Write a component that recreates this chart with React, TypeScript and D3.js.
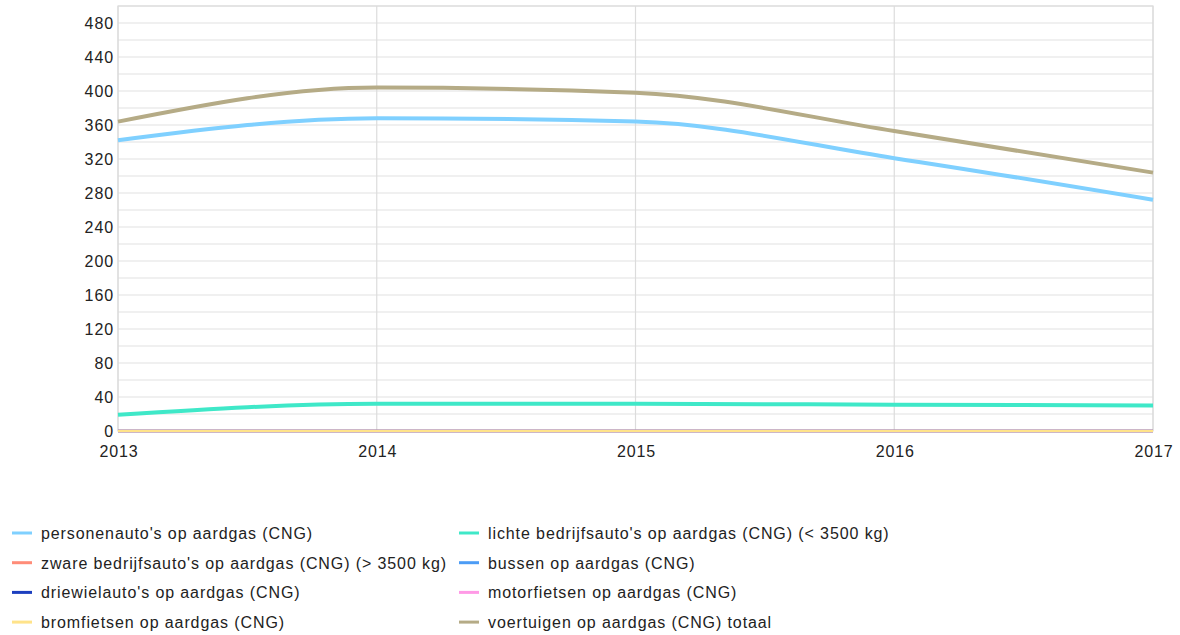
import React from "react";
import * as d3 from "d3";

const years = [2013, 2014, 2015, 2016, 2017];
const personenauto = [342, 368, 364, 321, 272];
const lichteBedrijf = [19, 32, 32, 31, 30];
const zwareBedrijf = [0, 0, 0, 0, 0];
const bussen = [0, 0, 0, 0, 0];
const driewiel = [0, 0, 0, 0, 0];
const motorfietsen = [0, 0, 0, 0, 0];
const bromfietsen = [0, 0, 0, 0, 0];
const totaal = [364, 404, 398, 353, 304];
const yTicks = [0, 40, 80, 120, 160, 200, 240, 280, 320, 360, 400, 440, 480];

const series = [
  { name: "personenauto's op aardgas (CNG)", values: personenauto, color: "#7fd0ff" },
  { name: "lichte bedrijfsauto's op aardgas (CNG) (< 3500 kg)", values: lichteBedrijf, color: "#3fe8c8" },
  { name: "zware bedrijfsauto's op aardgas (CNG) (> 3500 kg)", values: zwareBedrijf, color: "#ff8c78" },
  { name: "bussen op aardgas (CNG)", values: bussen, color: "#4c9cf5" },
  { name: "driewielauto's op aardgas (CNG)", values: driewiel, color: "#1c3fbf" },
  { name: "motorfietsen op aardgas (CNG)", values: motorfietsen, color: "#ff9ae6" },
  { name: "bromfietsen op aardgas (CNG)", values: bromfietsen, color: "#ffe38a" },
  { name: "voertuigen op aardgas (CNG) totaal", values: totaal, color: "#b5ab86" },
];

const drawOrder = [2, 3, 4, 5, 6, 1, 0, 7];

export default function App() {
  const W = 1180, H = 635;
  const left = 118, right = 1153, top = 6, bottom = 431;
  const x = d3.scaleLinear().domain([2013, 2017]).range([left, right]);
  const y = d3.scaleLinear().domain([0, 500]).range([bottom, top]);
  const minor = d3.range(0, 501, 20);
  const line = (vals: number[]) =>
    d3.line<number>()
      .x((_, i) => x(years[i]))
      .y((d) => y(d))
      .curve(d3.curveMonotoneX)(vals) || "";
  const font = "'Liberation Sans', Arial, sans-serif";
  const ls = 0.9;
  const fs = 16;
  return (
    <svg width={W} height={H} style={{ position: "absolute", left: 0, top: 0, fontFamily: font }}>
      <rect x={0} y={0} width={W} height={H} fill="#fff" />
      {minor.map((v) => (
        <line key={"g" + v} x1={left} x2={right} y1={y(v)} y2={y(v)} stroke="#e2e2e2" strokeWidth={1.2} />
      ))}
      {years.map((yr) => (
        <line key={"v" + yr} x1={x(yr)} x2={x(yr)} y1={top} y2={bottom} stroke="#dcdcdc" strokeWidth={1.2} />
      ))}
      <rect x={left} y={top} width={right - left} height={bottom - top} fill="none" stroke="#dcdcdc" strokeWidth={1.2} />
      {yTicks.map((v) => (
        <text key={"t" + v} x={left - 4} y={y(v) + 6} textAnchor="end" fontSize={fs} letterSpacing={ls} fill="#222">{v}</text>
      ))}
      {years.map((yr) => (
        <text key={"x" + yr} x={x(yr) + 1} y={bottom + 26} textAnchor="middle" fontSize={fs} letterSpacing={ls} fill="#222">{yr}</text>
      ))}
      {drawOrder.map((si) => (
        <path key={"p" + si} d={line(series[si].values)} fill="none" stroke={series[si].color} strokeWidth={si <= 1 || si === 7 ? 4 : 2.5} strokeLinejoin="round" />
      ))}
      {series.map((s, i) => {
        const col = i % 2;
        const row = Math.floor(i / 2);
        const lx = col === 0 ? 12 : 459;
        const ly = 533 + row * 29.7;
        return (
          <g key={"l" + i}>
            <line x1={lx} x2={lx + 20} y1={ly} y2={ly} stroke={s.color} strokeWidth={3} />
            <text x={lx + 29} y={ly + 6} fontSize={fs} letterSpacing={ls} fill="#222">{s.name}</text>
          </g>
        );
      })}
    </svg>
  );
}
